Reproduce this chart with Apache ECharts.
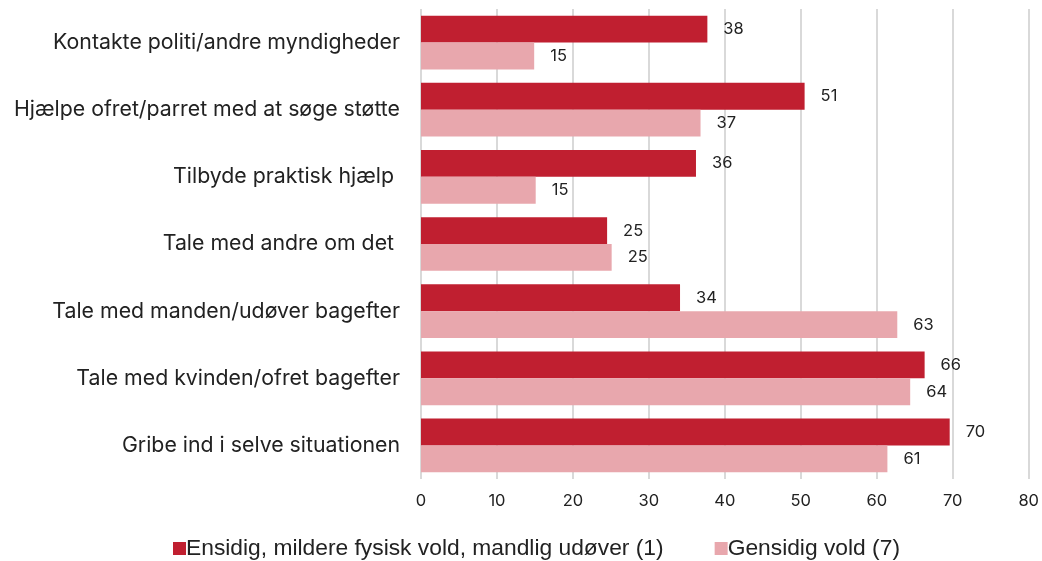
<!DOCTYPE html>
<html><head><meta charset="utf-8">
<script src="https://cdn.jsdelivr.net/npm/echarts@6/dist/echarts.min.js"></script>
<style>html,body{margin:0;padding:0;background:#fff}#c{width:1042px;height:561px}</style>
</head><body><div id="c"></div>
<script>
const categories = [
  'Kontakte politi/andre myndigheder',
  'Hjælpe ofret/parret med at søge støtte',
  'Tilbyde praktisk hjælp ',
  'Tale med andre om det ',
  'Tale med manden/udøver bagefter',
  'Tale med kvinden/ofret bagefter',
  'Gribe ind i selve situationen'
];
const seriesNames = ['Ensidig, mildere fysisk vold, mandlig udøver (1)', 'Gensidig vold (7)'];
const ensidig = [37.7, 50.5, 36.2, 24.5, 34.1, 66.3, 69.6];
const gensidig = [14.9, 36.8, 15.1, 25.1, 62.7, 64.4, 61.4];
const xTicks = [0, 10, 20, 30, 40, 50, 60, 70, 80];

const chart = echarts.init(document.getElementById('c'), null, {renderer: 'canvas'});
const font = 'Inter';
const labelCfg = {
  show: true, position: 'right', distance: 16,
  fontFamily: font, fontSize: 16.5, color: '#222',
  formatter: p => Math.round(p.value)
};
chart.setOption({
  animation: false,
  textStyle: {fontFamily: font},
  grid: {left: 421, right: 8, top: 9, bottom: 82, containLabel: false},
  xAxis: {
    type: 'value', min: xTicks[0], max: xTicks[xTicks.length - 1], interval: 10,
    axisLine: {show: false},
    axisTick: {show: false},
    axisLabel: {fontFamily: font, fontSize: 16.5, color: '#222', margin: 14},
    splitLine: {show: true, lineStyle: {color: '#d9d9d9', width: 2}}
  },
  yAxis: {
    type: 'category', data: categories, inverse: true,
    axisLine: {show: false}, axisTick: {show: false},
    axisLabel: {fontFamily: font, fontSize: 21.3, color: '#222', margin: 21}
  },
  legend: {
    top: 537, left: 173, itemGap: 51, padding: 0,
    itemWidth: 13, itemHeight: 13, icon: 'rect',
    textStyle: {fontFamily: 'Liberation Sans', fontSize: 22.8, color: '#222', padding: [0, 0, 0, -5]},
    data: seriesNames
  },
  series: [
    {name: seriesNames[0], type: 'bar', data: ensidig, barGap: '0%', barCategoryGap: '20%',
     itemStyle: {color: '#C01F30'}, label: labelCfg},
    {name: seriesNames[1], type: 'bar', data: gensidig, barGap: '0%', barCategoryGap: '20%',
     itemStyle: {color: '#E8A7AD'}, label: labelCfg}
  ]
});
</script></body></html>
